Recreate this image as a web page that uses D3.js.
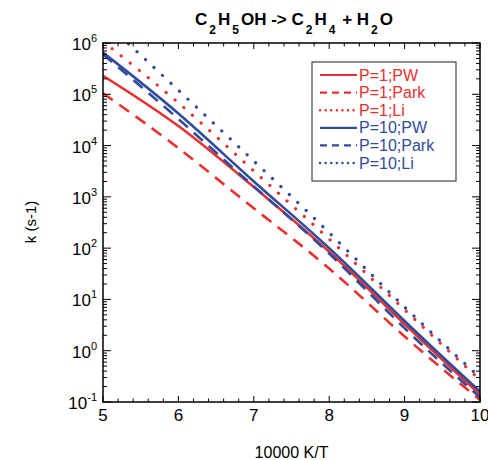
<!DOCTYPE html>
<html lang="en">
<meta charset="UTF-8">
<title>C2H5OH rate</title>
<script src="https://d3js.org/d3.v7.min.js"></script>
<style>
  body { margin: 0; background: #fff; }
  svg { font-family: "Liberation Sans", Arial, Helvetica, sans-serif; }
</style>
<body>
<svg width="488" height="460"></svg>

<script>
// values (k in s-1 at 10000 K/T = 5..10)
var invT = [5, 6, 7, 8, 9, 10];
var p1PW    = [2.3e5, 2.4e4, 1.55e3, 85, 3.3, 0.14];
var p1Park  = [1.05e5, 8.9e3, 600, 40, 1.9, 0.11];
var p1Li    = [1.07e6, 6.8e4, 3.2e3, 150, 6.3, 0.27];
var p10PW   = [6.5e5, 4.2e4, 2.0e3, 100, 3.8, 0.16];
var p10Park = [6.0e5, 3.3e4, 1.6e3, 78, 2.75, 0.123];
var p10Li   = [2.8e6, 1.2e5, 5.0e3, 200, 7.1, 0.30];
var names = ["P=1;PW", "P=1;Park", "P=1;Li", "P=10;PW", "P=10;Park", "P=10;Li"];
var xTicks = [5, 6, 7, 8, 9, 10];
var yTicks = [1e-1, 1e0, 1e1, 1e2, 1e3, 1e4, 1e5, 1e6];

var red = "#e8312f", blue = "#2f4b9c";
var styles = [
  {c: red, d: null}, {c: red, d: "12,8"}, {c: red, d: "0.1,11.5"},
  {c: blue, d: null}, {c: blue, d: "12,8"}, {c: blue, d: "0.1,11.5"}
];
var allSeries = [p1PW, p1Park, p1Li, p10PW, p10Park, p10Li];

var svg = d3.select("svg");
var plotL = 103, plotR = 480, plotT = 43, plotB = 402;

var x = d3.scaleLinear().domain([5, 10]).range([plotL, plotR]);
var y = d3.scaleLog().domain([0.1, 1e6]).range([plotB, plotT]);

function isDot(i) { return styles[i].d && styles[i].d.startsWith("0.1"); }

svg.append("clipPath").attr("id", "plot")
  .append("rect").attr("x", plotL).attr("y", plotT)
  .attr("width", plotR - plotL).attr("height", plotB - plotT);

var line = d3.line()
  .x(function(d, i) { return x(invT[i]); })
  .y(function(d) { return y(d); })
  .curve(d3.curveNatural);

var g = svg.append("g").attr("clip-path", "url(#plot)");
allSeries.forEach(function(s, i) {
  g.append("path")
    .attr("d", line(s))
    .attr("fill", "none")
    .attr("stroke", styles[i].c)
    .attr("stroke-width", isDot(i) ? 3.2 : 2.6)
    .attr("stroke-linecap", isDot(i) ? "round" : "butt")
    .attr("stroke-dasharray", styles[i].d);
});

// axes, ticks pointing inward on all four sides
var xMinor = d3.range(5, 10.001, 0.2);
var yMinor = [];
for (var e = -1; e < 6; e++) for (var m = 2; m < 10; m++) yMinor.push(m * Math.pow(10, e));

var ax = svg.append("g").attr("stroke", "#000");
xMinor.forEach(function(v) {
  var major = Math.abs(v - Math.round(v)) < 1e-6;
  var len = major ? 6 : 3.5;
  ax.append("line").attr("x1", x(v)).attr("x2", x(v)).attr("y1", plotB).attr("y2", plotB - len);
  ax.append("line").attr("x1", x(v)).attr("x2", x(v)).attr("y1", plotT).attr("y2", plotT + len);
});
yTicks.forEach(function(v) {
  ax.append("line").attr("x1", plotL).attr("x2", plotL + 8).attr("y1", y(v)).attr("y2", y(v));
  ax.append("line").attr("x1", plotR).attr("x2", plotR - 8).attr("y1", y(v)).attr("y2", y(v));
});
yMinor.forEach(function(v) {
  ax.append("line").attr("x1", plotL).attr("x2", plotL + 4).attr("y1", y(v)).attr("y2", y(v));
  ax.append("line").attr("x1", plotR).attr("x2", plotR - 4).attr("y1", y(v)).attr("y2", y(v));
});
svg.append("rect").attr("x", plotL).attr("y", plotT)
  .attr("width", plotR - plotL).attr("height", plotB - plotT)
  .attr("fill", "none").attr("stroke", "#000").attr("stroke-width", 1.5);

// tick labels
xTicks.forEach(function(v) {
  svg.append("text").attr("x", x(v)).attr("y", 421)
    .attr("text-anchor", "middle").attr("font-size", 17).text(v);
});
yTicks.forEach(function(v) {
  var t = svg.append("text").attr("x", 97).attr("y", y(v) + 7)
    .attr("text-anchor", "end").attr("font-size", 17);
  t.append("tspan").text("10");
  t.append("tspan").attr("dy", -8).attr("font-size", 11).text(Math.round(Math.log10(v)));
});

// axis titles
svg.append("text").attr("x", (plotL + plotR) / 2).attr("y", 458)
  .attr("text-anchor", "middle").attr("font-size", 16).text("10000 K/T");
svg.append("text").attr("transform", "translate(36,222) rotate(-90)")
  .attr("text-anchor", "middle").attr("font-size", 15).text("k (s-1)");

// title with subscripts
var title = svg.append("text").attr("x", 292).attr("y", 25)
  .attr("text-anchor", "middle").attr("font-size", 17).attr("font-weight", "bold");
var parts = [["C", 0], ["2", 1], ["H", 0], ["5", 1], ["OH -> C", 0], ["2", 1], ["H", 0], ["4", 1], [" + H", 0], ["2", 1], ["O", 0]];
var low = false;
parts.forEach(function(p) {
  var ts = title.append("tspan").text(p[0]);
  if (p[1]) { ts.attr("font-size", 12).attr("dx", 2); }
  else { ts.attr("dx", 2); }
  if (p[1] && !low) { ts.attr("dy", 9); low = true; }
  else if (!p[1] && low) { ts.attr("dy", -9); low = false; }
});

// legend
var lg = svg.append("g");
lg.append("rect").attr("x", 312).attr("y", 62).attr("width", 144).attr("height", 119)
  .attr("fill", "#fff").attr("stroke", "#444").attr("stroke-width", 1.2);
names.forEach(function(n, i) {
  var yy = 75 + i * 17.6;
  lg.append("line").attr("x1", 320).attr("x2", 357).attr("y1", yy).attr("y2", yy)
    .attr("stroke", styles[i].c).attr("stroke-width", isDot(i) ? 2.4 : 2.2)
    .attr("stroke-linecap", isDot(i) ? "round" : "butt")
    .attr("stroke-dasharray", styles[i].d ? (isDot(i) ? "0.1,5.5" : "7,5") : null);
  lg.append("text").attr("x", 359).attr("y", yy + 5.5).attr("font-size", 16)
    .attr("fill", styles[i].c).text(n);
});
</script>
</body>
</html>
